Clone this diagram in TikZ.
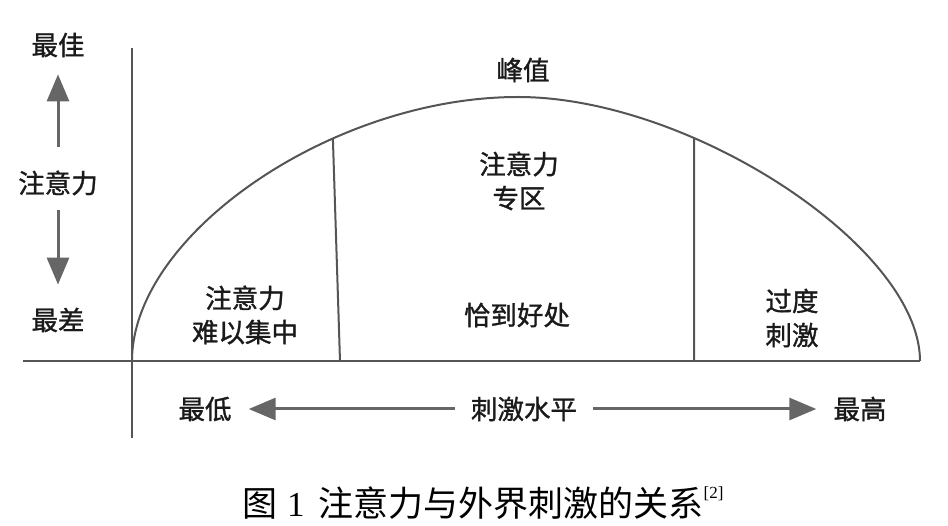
\documentclass[tikz,border=0pt]{standalone}
\usepackage{fontspec}
\usetikzlibrary{arrows.meta,intersections}
\newfontfamily\cjk{Noto Sans CJK SC}[FakeBold=1.2]
\newfontfamily\cjkcap{Noto Sans CJK SC}
\newfontfamily\tnr{Liberation Serif}
\definecolor{linegray}{HTML}{555555}
\definecolor{arrgray}{HTML}{666666}
\definecolor{txt}{HTML}{1A1A1A}
\tikzset{
  lbl/.style={font=\cjk\fontsize{26.5}{34}\selectfont, text=txt, align=center, inner sep=0pt},
  axisline/.style={draw=linegray, line width=2pt},
  bigarr/.style={draw=arrgray, line width=3pt, -{Triangle[length=27pt,width=22pt]}},
}
\begin{document}
\begin{tikzpicture}[x=1pt,y=-1pt]
\useasboundingbox (0,0) rectangle (948,526);
% axes
\coordinate (ytop) at (132,48);
\coordinate (ybot) at (132,438);
\coordinate (xl) at (23,361);
\coordinate (xr) at (920,361);
\coordinate (o) at (132,361);
\coordinate (pk) at (518,97);
\draw[axisline] (ytop) -- (ybot);
\draw[axisline] (xl) -- (xr);
% curve
\draw[axisline, name path=curve] (o) .. controls (132,{361-0.48*264}) and ({518-0.48*386},97) .. (pk)
   .. controls ({518+0.43*402},97) and (920,{361-0.43*264}) .. (xr);
% dividers
\coordinate (d1b) at (340,361);
\coordinate (d2b) at (694,361);
\path[name path=g1] (d1b) -- (331,80);
\path[name path=g2] (d2b) -- (694,80);
\path[name intersections={of=curve and g1, by=d1t}];
\path[name intersections={of=curve and g2, by=d2t}];
\draw[axisline] (d1b) -- (d1t);
\draw[axisline] (d2b) -- (d2t);
% left labels
\node[lbl] (best) at (58,45) {最佳};
\node[lbl] (attn) at (58,183) {注意力};
\node[lbl] (worst) at (58,320) {最差};
\draw[bigarr, shorten <=23pt, shorten >=17pt] (attn) -- (best);
\draw[bigarr, shorten <=14pt, shorten >=23pt] (attn) -- (worst);
% region labels
\node[lbl] (peak) at (523,70) {峰值};
\node[lbl] (zone) at (519,181) {注意力\\专区};
\node[lbl] (hard) at (245,315) {注意力\\难以集中};
\node[lbl] (right) at (517,315) {恰到好处};
\node[lbl] (over) at (792,318) {过度\\刺激};
% bottom axis labels
\node[lbl] (low) at (205,409) {最低};
\node[lbl] (level) at (524,409) {刺激水平};
\node[lbl] (high) at (860,409) {最高};
\draw[bigarr, shorten <=16pt, shorten >=17pt] (level) -- (low);
\draw[bigarr, shorten <=16pt, shorten >=17pt] (level) -- (high);
% caption
\node[inner sep=0pt, text=black, anchor=west] (cap) at (242,503)
  {\cjkcap\fontsize{35}{35}\selectfont 图\hspace{10pt}{\tnr 1}\hspace{14pt}注意力与外界刺激的关系\raisebox{0.5em}{\tnr\fontsize{17}{17}\selectfont[2]}};
\end{tikzpicture}
\end{document}
